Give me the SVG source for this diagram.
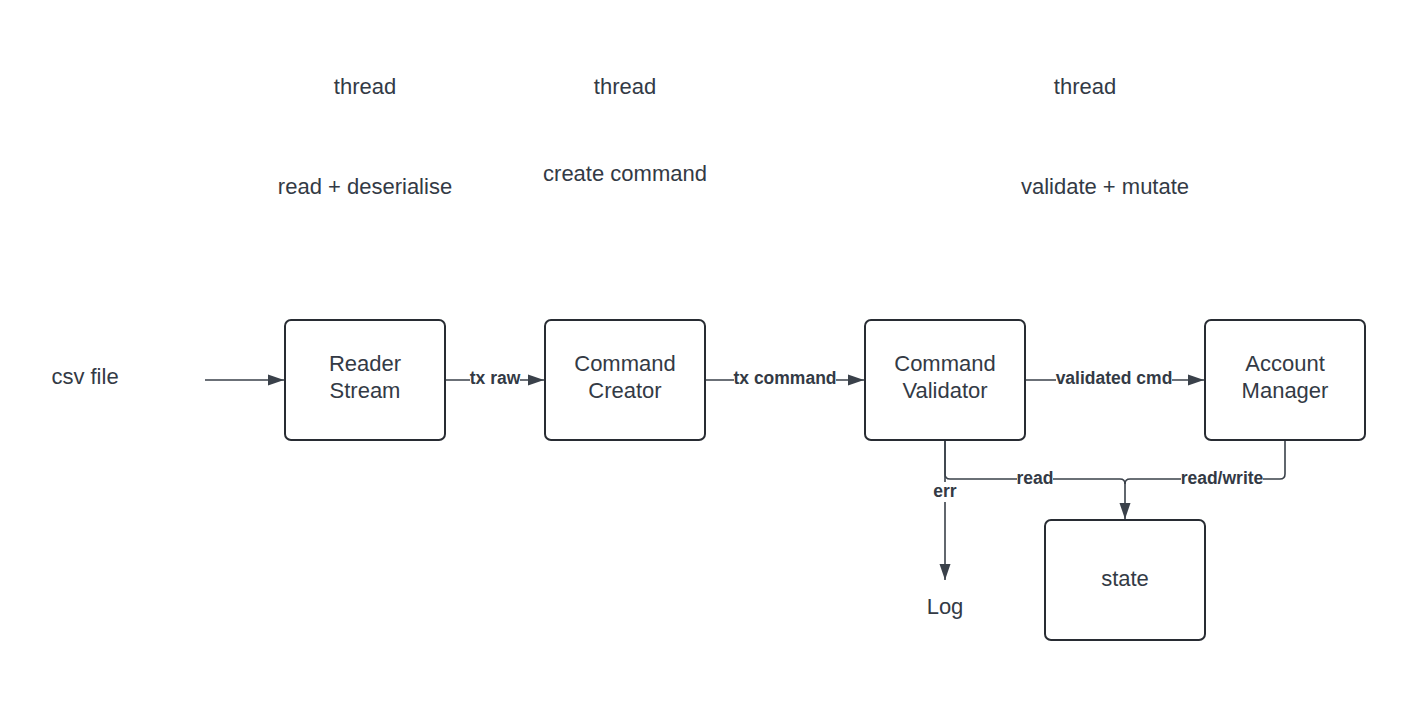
<svg xmlns="http://www.w3.org/2000/svg" width="1426" height="701" viewBox="0 0 1426 701">
<style>
.box{fill:#fff;stroke:#282c33;stroke-width:2}
.t{font-family:"Liberation Sans",Arial,sans-serif;font-size:22px;fill:#333a45;text-anchor:middle}
.e{stroke:#3a414a;stroke-width:1.6;fill:none}
.lb{font-family:"Liberation Sans",Arial,sans-serif;font-size:17.5px;font-weight:bold;fill:#333a45;text-anchor:middle}
.bg{fill:#fff}
</style>
<defs>
<marker id="ah" viewBox="0 0 16 12" refX="16" refY="6" markerWidth="16" markerHeight="12" markerUnits="userSpaceOnUse" orient="auto">
<path d="M0,0.5 L16,6 L0,11.5 Z" fill="#3a414a"/>
</marker>
</defs>
<rect width="1426" height="701" fill="#fff"/>
<g id="labels">
<text class="t" x="365" y="94">thread</text>
<text class="t" x="625" y="94">thread</text>
<text class="t" x="1085" y="94">thread</text>
<text class="t" x="365" y="194">read + deserialise</text>
<text class="t" x="625" y="181">create command</text>
<text class="t" x="1105" y="194">validate + mutate</text>
<text class="t" x="85" y="384">csv file</text>
<text class="t" x="945" y="614">Log</text>
</g>
<g id="connectors">
<path class="e" d="M205,380 H284" marker-end="url(#ah)"/>
<path class="e" d="M445,380 H544" marker-end="url(#ah)"/>
<path class="e" d="M705,380 H864" marker-end="url(#ah)"/>
<path class="e" d="M1025,380 H1204" marker-end="url(#ah)"/>
<path class="e" d="M945,440 V580" marker-end="url(#ah)"/>
<path class="e" d="M945,440 V474 Q945,479 950,479 H1120 Q1125,479 1125,484 V519" marker-end="url(#ah)"/>
<path class="e" d="M1285,440 V474 Q1285,479 1280,479 H1130 Q1125,479 1125,484"/>
<rect class="bg" x="470" y="369" width="50" height="20"/>
<text class="lb" x="495" y="384">tx raw</text>
<rect class="bg" x="734" y="369" width="102" height="20"/>
<text class="lb" x="785" y="384">tx command</text>
<rect class="bg" x="1056" y="369" width="116" height="20"/>
<text class="lb" x="1114" y="384">validated cmd</text>
<rect class="bg" x="1017" y="469" width="36" height="20"/>
<text class="lb" x="1035" y="484">read</text>
<rect class="bg" x="1181" y="469" width="82" height="20"/>
<text class="lb" x="1222" y="484">read/write</text>
<rect class="bg" x="930" y="482" width="30" height="20"/>
<text class="lb" x="945" y="497">err</text>
</g>
<g id="reader"><rect class="box" x="285" y="320" width="160" height="120" rx="6"/><text class="t" x="365" y="371">Reader</text><text class="t" x="365" y="398">Stream</text></g>
<g id="creator"><rect class="box" x="545" y="320" width="160" height="120" rx="6"/><text class="t" x="625" y="371">Command</text><text class="t" x="625" y="398">Creator</text></g>
<g id="validator"><rect class="box" x="865" y="320" width="160" height="120" rx="6"/><text class="t" x="945" y="371">Command</text><text class="t" x="945" y="398">Validator</text></g>
<g id="account"><rect class="box" x="1205" y="320" width="160" height="120" rx="6"/><text class="t" x="1285" y="371">Account</text><text class="t" x="1285" y="398">Manager</text></g>
<g id="state"><rect class="box" x="1045" y="520" width="160" height="120" rx="6"/><text class="t" x="1125" y="586">state</text></g>
</svg>
